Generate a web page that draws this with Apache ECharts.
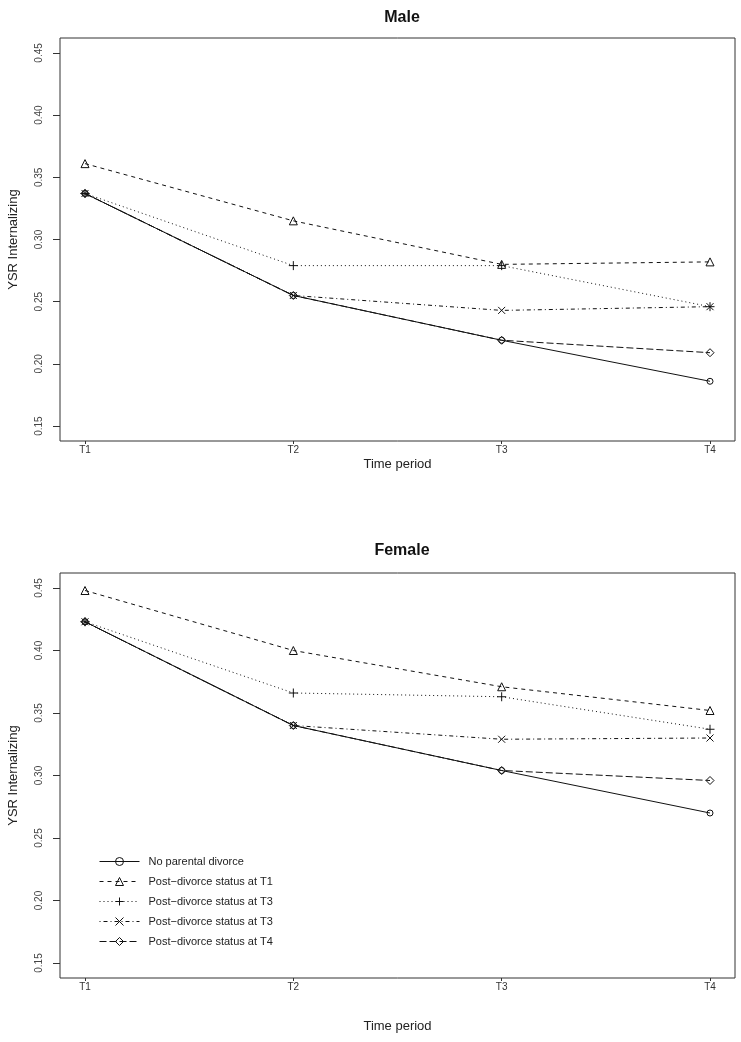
<!DOCTYPE html>
<html>
<head>
<meta charset="utf-8">
<script src="https://cdn.jsdelivr.net/npm/echarts@6/dist/echarts.min.js"></script>
<style>
html,body{margin:0;padding:0;background:#fff;}
#main{width:741px;height:1042px;}
</style>
</head>
<body>
<div id="main"></div>
<script>
// ---- data ----
const categories = ['T1', 'T2', 'T3', 'T4'];
const seriesNames = [
  'No parental divorce',
  'Post\u2212divorce status at T1',
  'Post\u2212divorce status at T3',
  'Post\u2212divorce status at T3 ',
  'Post\u2212divorce status at T4'
];
const yTicks = [0.15, 0.20, 0.25, 0.30, 0.35, 0.40, 0.45];
const panelTitles = ['Male', 'Female'];

const maleNoDivorce = [0.337, 0.255, 0.219, 0.186];
const maleT1 = [0.361, 0.315, 0.280, 0.282];
const maleT3a = [0.337, 0.279, 0.279, 0.246];
const maleT3b = [0.337, 0.255, 0.243, 0.246];
const maleT4 = [0.337, 0.255, 0.219, 0.209];

const femaleNoDivorce = [0.423, 0.340, 0.304, 0.270];
const femaleT1 = [0.448, 0.400, 0.371, 0.352];
const femaleT3a = [0.423, 0.366, 0.363, 0.337];
const femaleT3b = [0.423, 0.340, 0.329, 0.330];
const femaleT4 = [0.423, 0.340, 0.304, 0.296];

// ---- styles ----
const FONT = 'Liberation Sans, Arial, sans-serif';
const styles = [
  { symbol: 'circle', size: 6, dash: 'solid' },
  { symbol: 'path://M5,0L10,9L0,9Z', size: 8, dash: [4, 4] },
  { symbol: 'path://M5,0L5,10M0,5L10,5', size: 9, dash: [1, 3] },
  { symbol: 'path://M0,0L10,10M10,0L0,10', size: 7, dash: [1, 3, 4, 3] },
  { symbol: 'path://M5,0L10,5L5,10L0,5Z', size: 8, dash: [7, 3] }
];
const panels = [
  [maleNoDivorce, maleT1, maleT3a, maleT3b, maleT4],
  [femaleNoDivorce, femaleT1, femaleT3a, femaleT3b, femaleT4]
];

const grids = [
  { left: 60, right: 6, top: 38, height: 403 },
  { left: 60, right: 6, top: 573, height: 405 }
];
const xNameGaps = [17, 42];

const series = [];
panels.forEach((panel, p) => {
  panel.forEach((vals, k) => {
    const st = styles[k];
    series.push({
      name: seriesNames[k],
      type: 'line',
      xAxisIndex: p,
      yAxisIndex: p,
      data: vals.map((v, i) => [i + 1, v]),
      symbol: st.symbol,
      symbolSize: st.size,
      showAllSymbol: true,
      lineStyle: { color: '#111', width: 1, type: st.dash },
      itemStyle: { color: 'rgba(255,255,255,0)', borderColor: '#111', borderWidth: 1 },
      emphasis: { disabled: true },
      animation: false,
      z: 2 + k
    });
  });
});

const xAxes = grids.map((g, p) => ({
  type: 'value',
  gridIndex: p,
  min: 0.88,
  max: 4.12,
  name: 'Time period',
  nameLocation: 'middle',
  nameGap: xNameGaps[p],
  nameTextStyle: { fontFamily: FONT, fontSize: 13, color: '#222' },
  splitLine: { show: false },
  axisLine: { show: false },
  axisTick: { show: true, length: 3, lineStyle: { color: '#333' }, customValues: [1, 2, 3, 4] },
  axisLabel: {
    customValues: [1, 2, 3, 4],
    formatter: v => categories[Math.round(v) - 1] || '',
    fontFamily: FONT, fontSize: 10, color: '#333', margin: 4
  }
}));

const yAxes = grids.map((g, p) => ({
  type: 'value',
  gridIndex: p,
  min: 0.138,
  max: 0.462,
  name: 'YSR Internalizing',
  nameLocation: 'middle',
  nameGap: 40,
  nameTextStyle: { fontFamily: FONT, fontSize: 13, color: '#222' },
  splitLine: { show: false },
  axisLine: { show: false },
  axisTick: { show: true, length: 7, lineStyle: { color: '#333' }, customValues: yTicks },
  axisLabel: {
    customValues: yTicks,
    rotate: 90,
    formatter: v => v.toFixed(2),
    fontFamily: FONT, fontSize: 10, color: '#444', margin: 16
  }
}));

const option = {
  backgroundColor: '#fff',
  animation: false,
  title: panelTitles.map((t, p) => ({
    text: t,
    left: 397,
    top: p === 0 ? 5 : 538,
    textAlign: 'center',
    textStyle: { fontFamily: FONT, fontSize: 16, fontWeight: 'bold', color: '#111' }
  })),
  grid: grids.map(g => Object.assign({ show: true, borderColor: '#333', borderWidth: 1, backgroundColor: 'transparent', outerBoundsMode: 'none', containLabel: false }, g)),
  xAxis: xAxes,
  yAxis: yAxes,
  legend: {
    orient: 'vertical',
    left: 94,
    top: 851,
    itemWidth: 40,
    itemHeight: 10,
    itemGap: 9,
    selectedMode: false,
    data: seriesNames,
    lineStyle: { width: 1 },
    itemStyle: { borderWidth: 1 },
    textStyle: { fontFamily: FONT, fontSize: 11, color: '#222', padding: [0, 0, 0, 4] }
  },
  series: series
};

const chart = echarts.init(document.getElementById('main'), null, { renderer: 'canvas' });
chart.setOption(option);
</script>
</body>
</html>
